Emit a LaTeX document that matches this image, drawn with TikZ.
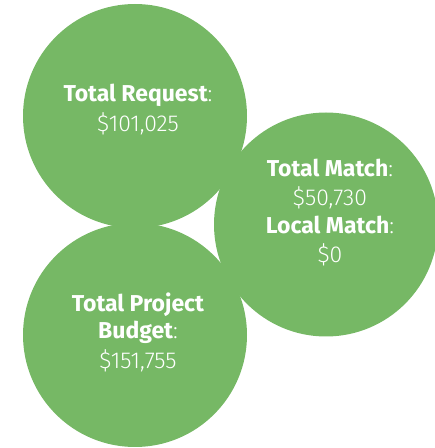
\documentclass[tikz,border=0pt]{standalone}
\usepackage{fontspec}
\setmainfont{Fira Sans}
\newfontfamily\lightfont{Fira Sans Light}
\newcommand{\lcolon}{{\mdseries\lightfont:}}
\definecolor{bubble}{RGB}{118,184,101}
\begin{document}
\begin{tikzpicture}[x=1pt,y=1pt,
  bubblestyle/.style={circle,fill=bubble,draw=none,minimum size=224pt,inner sep=0pt},
  labelstyle/.style={text=white,font=\fontsize{23}{30}\selectfont,align=center,inner sep=0pt,anchor=base}]
\useasboundingbox (0,0) rectangle (435,448);
\node[bubblestyle] (req) at (135,332) {};
\node[bubblestyle] (budget) at (135,113) {};
\node[bubblestyle] (match) at (326,223.5) {};
\node[labelstyle] (reqlabel) at (138,346.3) {\bfseries Total Request\lcolon};
\node[labelstyle] (reqval) at (138,316.3) {\lightfont \$101,025};
\node[labelstyle] (matchlabel) at (330,271.3) {\bfseries Total Match\lcolon};
\node[labelstyle] (matchval) at (330,242.3) {\lightfont \$50,730};
\node[labelstyle] (locallabel) at (330,214) {\bfseries Local Match\lcolon};
\node[labelstyle] (localval) at (330,185.3) {\lightfont \$0};
\node[labelstyle] (budlabel1) at (138,136.3) {\bfseries Total Project};
\node[labelstyle] (budlabel2) at (138,109) {\bfseries Budget\lcolon};
\node[labelstyle] (budval) at (138,79) {\lightfont \$151,755};
\end{tikzpicture}
\end{document}
